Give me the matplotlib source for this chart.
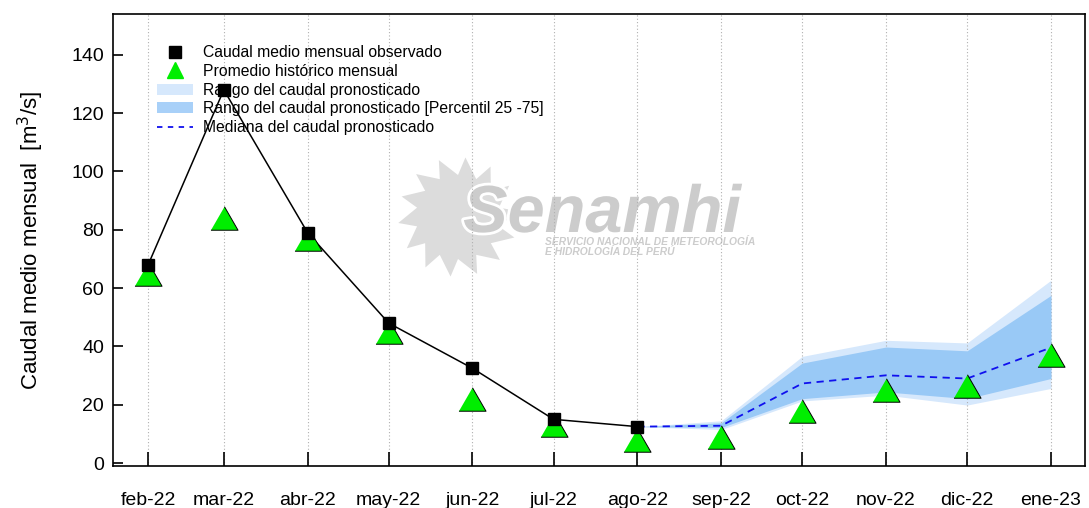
import numpy as np
import matplotlib
matplotlib.use("Agg")
import matplotlib.pyplot as plt
import matplotlib.dates as mdates
import matplotlib.patheffects as pe
from matplotlib.lines import Line2D
from matplotlib.patches import Patch, Polygon
from datetime import date

plt.rcParams["font.family"] = ["Liberation Sans", "DejaVu Sans"]

months = ["feb-22", "mar-22", "abr-22", "may-22", "jun-22", "jul-22",
          "ago-22", "sep-22", "oct-22", "nov-22", "dic-22", "ene-23"]
month_dates = [date(2022, m, 1) for m in range(2, 13)] + [date(2023, 1, 1)]

observed = [68, 128, 79, 48, 32.5, 15, 12.5]
historical = [65, 84, 77, 45, 22, 13, 8, 9, 18, 25, 26.5, 37]

# forecast from ago-22 onwards
fc_median = [12.5, 12.8, 27.3, 30.1, 29.0, 39.6]
fc_min = [12.5, 11.5, 21.3, 23.3, 19.9, 25.6]
fc_max = [12.5, 14.5, 36.6, 42.1, 41.2, 62.7]
fc_p25 = [12.5, 12.2, 22.1, 24.4, 22.1, 29.0]
fc_p75 = [12.5, 13.8, 34.3, 39.8, 38.5, 57.5]

x = mdates.date2num(month_dates)
x_obs = x[:len(observed)]
x_fc = x[6:]

fig = plt.figure(figsize=(10.89, 5.08), dpi=100)
ax = fig.add_axes([113 / 1089, 42 / 508, (1085 - 113) / 1089, (466 - 14) / 508])

# watermark logo (sun + text), placed in inches from bottom-left
cx, cy = 4.58, 5.08 - 2.17
ang = np.linspace(0, 2 * np.pi, 28, endpoint=False)
rad = np.where(np.arange(28) % 2 == 0, 0.60, 0.42)
ang = ang + np.where(np.arange(28) % 2 == 0, 0.10, 0.0)
sun = Polygon(np.column_stack([cx + rad * np.cos(ang), cy + rad * np.sin(ang)]),
              closed=True, facecolor="#dcdcdc", edgecolor="none",
              transform=fig.dpi_scale_trans, zorder=0)
ax.add_patch(sun)
ax.text(6.02, 5.08 - 2.32, "Senamhi", transform=fig.dpi_scale_trans, fontsize=48,
        fontweight="bold", fontstyle="italic", color="#cccccc", ha="center", va="baseline",
        zorder=0.5, path_effects=[pe.withStroke(linewidth=4, foreground="white")])
ax.text(5.45, 5.08 - 2.37, "SERVICIO NACIONAL DE METEOROLOGÍA\nE HIDROLOGÍA DEL PERÚ",
        transform=fig.dpi_scale_trans, fontsize=7.4, fontweight="bold", fontstyle="italic",
        color="#cccccc", ha="left", va="top", zorder=0.5, linespacing=0.95)

ax.fill_between(x_fc, fc_min, fc_max, color="#d6e8fc", lw=0, zorder=1)
ax.fill_between(x_fc, fc_p25, fc_p75, color="#99c9f6", lw=0, zorder=2)
ax.plot(x_fc, fc_median, color="#1010ee", ls=(0, (4, 3)), lw=1.3, zorder=3)
ax.plot(x_obs, observed, color="black", lw=1.1, zorder=4)
tri = [(-1, -0.866), (1, -0.866), (0, 0.866)]
ax.plot(x, historical, ls="none", marker=tri, ms=19.5, mfc="#00ee00", mec="black",
        mew=0.7, zorder=5)
ax.plot(x_obs, observed, ls="none", marker="s", ms=8.7, color="black", zorder=6)

ax.set_xlim(mdates.date2num(date(2022, 1, 19)), mdates.date2num(date(2023, 1, 13)) + 0.6)
ax.set_ylim(-1, 154)
ax.set_xticks(x)
ax.set_xticklabels(months, fontsize=14)
ax.set_yticks(np.arange(0, 141, 20))
ax.tick_params(axis="y", labelsize=14, direction="in", length=7, width=1.2, pad=6.5)
ax.tick_params(axis="x", direction="in", length=10, width=1.2, pad=18.5)
ax.grid(axis="x", color="#b0b0b0", ls=(0, (1, 2)), lw=0.8)
for s in ax.spines.values():
    s.set_linewidth(1.2)
ax.set_ylabel("Caudal medio mensual  [m$^3$/s]", fontsize=16, labelpad=18)

handles = [
    Line2D([], [], ls="none", marker="s", ms=8, color="black"),
    Line2D([], [], ls="none", marker="^", ms=11, mfc="#00ee00", mec="#00ee00"),
    Patch(facecolor="#d6e8fc", edgecolor="none"),
    Patch(facecolor="#a8d0f8", edgecolor="none"),
    Line2D([], [], color="#1010ee", ls=(0, (3, 3)), lw=1.3),
]
labels = ["Caudal medio mensual observado", "Promedio histórico mensual",
          "Rango del caudal pronosticado",
          "Rango del caudal pronosticado [Percentil 25 -75]",
          "Mediana del caudal pronosticado"]
ax.legend(handles, labels, loc="upper left", bbox_to_anchor=(0.039, 0.945), frameon=False,
          fontsize=11.3, handlelength=2.3, handletextpad=0.65, labelspacing=0.24,
          borderaxespad=0)

fig.savefig("out.png", dpi=100)
